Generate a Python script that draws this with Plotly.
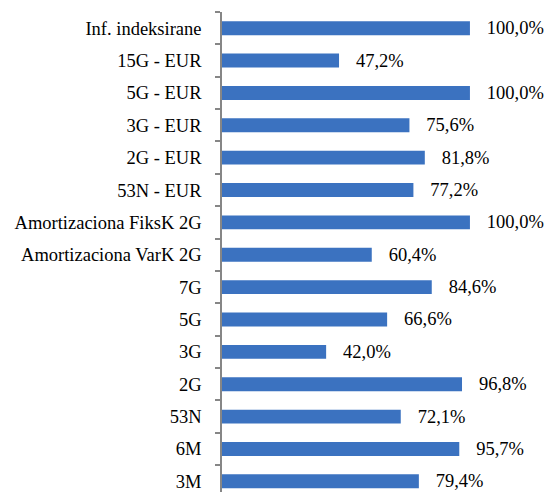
import plotly.graph_objects as go

categories = ["Inf. indeksirane", "15G - EUR", "5G - EUR", "3G - EUR", "2G - EUR", "53N - EUR",
              "Amortizaciona FiksK 2G", "Amortizaciona VarK 2G", "7G", "5G", "3G", "2G", "53N", "6M", "3M"]
values = [100.0, 47.2, 100.0, 75.6, 81.8, 77.2, 100.0, 60.4, 84.6, 66.6, 42.0, 96.8, 72.1, 95.7, 79.4]

fig = go.Figure()
fig.add_trace(go.Bar(
    y=categories, x=values, orientation="h",
    marker=dict(color="#3B72C0", line=dict(width=0)),
    text=[f"{v:.1f}".replace(".", ",") + "%" for v in values],
    texttemplate="   %{text}",
    textposition="outside", cliponaxis=False, constraintext="none",
    textfont=dict(family="Liberation Serif", size=18.5, color="#000000"),
    hoverinfo="skip",
))

fig.update_layout(
    width=545, height=484,
    margin=dict(l=214, r=0, t=4, b=0),
    paper_bgcolor="white", plot_bgcolor="white",
    bargap=0.57, showlegend=False,
    font=dict(family="Liberation Serif", color="#000000"),
)
fig.update_xaxes(range=[0, 1.335 * 100], visible=False, showgrid=False, zeroline=False)
fig.update_yaxes(
    type="category", categoryorder="array", categoryarray=categories,
    range=[14.33, -0.5],
    showline=True, linecolor="#868686", linewidth=1.5,
    ticks="outside", ticklen=5, tickcolor="#868686", tickwidth=1.5,
    tickson="boundaries", ticklabelstandoff=15,
    tickfont=dict(family="Liberation Serif", size=18.5, color="#000000"),
    showgrid=False, zeroline=False,
)

fig.write_html("out.html")
